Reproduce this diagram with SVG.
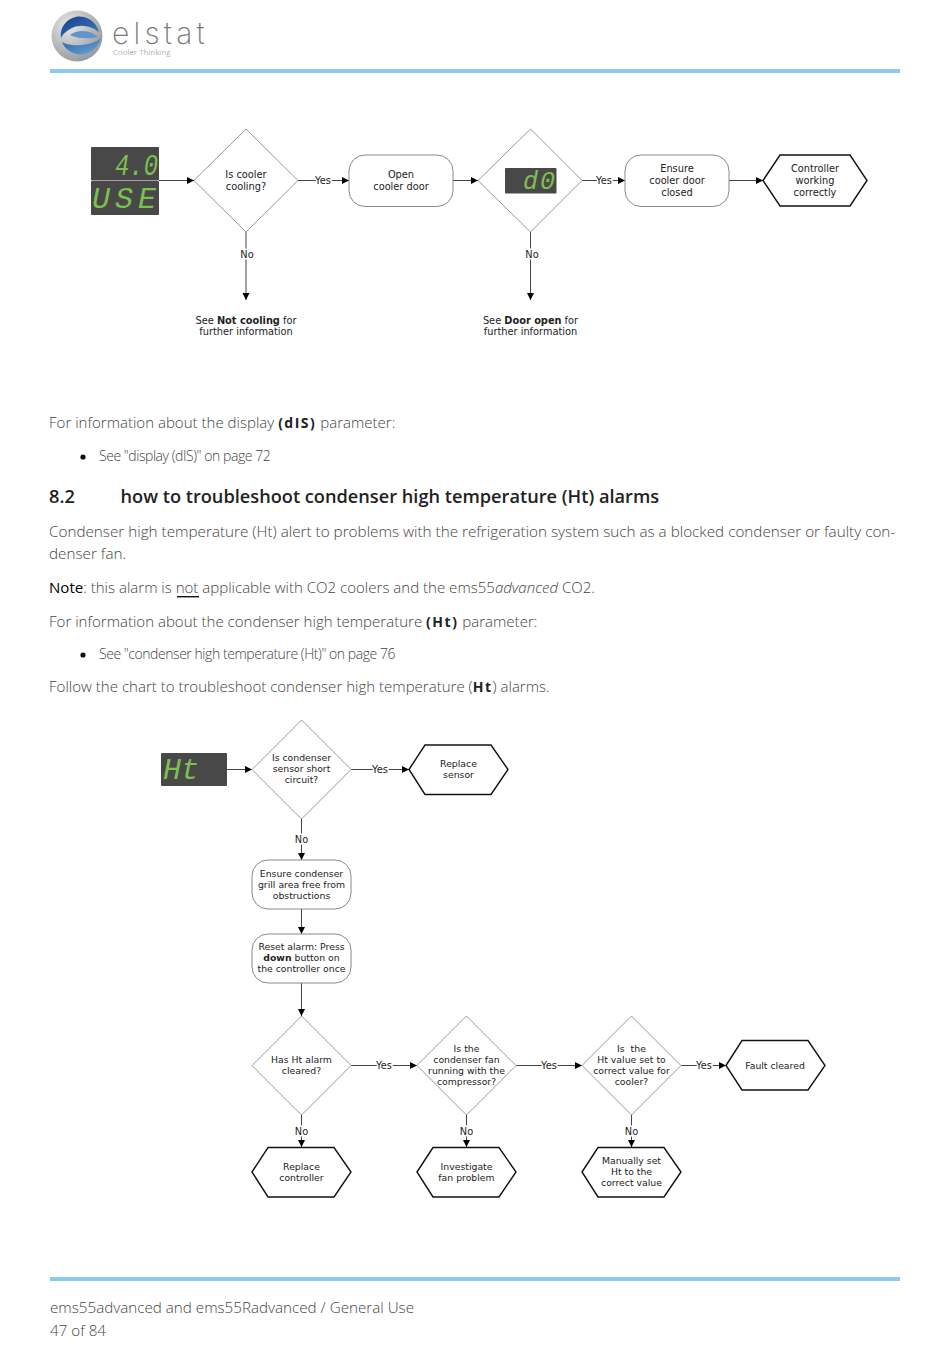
<svg xmlns="http://www.w3.org/2000/svg" width="950" height="1360" viewBox="0 0 950 1360">
<style>
.d{fill:#fff;stroke:#999;stroke-width:1}
.r{fill:#fff;stroke:#888;stroke-width:1}
.h{fill:#fff;stroke:#111;stroke-width:1.4}
.t{font:9.800px "DejaVu Sans",Verdana,sans-serif;fill:#222;text-anchor:middle}
.u{font:9.300px "DejaVu Sans",Verdana,sans-serif;fill:#222;text-anchor:middle}
.l{font:9.800px "DejaVu Sans",Verdana,sans-serif;fill:#222;text-anchor:middle;paint-order:stroke;stroke:#fff;stroke-width:3px}
.c{fill:none;stroke:#444;stroke-width:1;marker-end:url(#a)}
.b{font:300 15.050px "Open Sans",sans-serif;fill:#444}
.s{font:300 14px "Open Sans",sans-serif;fill:#444;letter-spacing:-.45px}
.m{font-weight:700;font-size:14px;fill:#222;letter-spacing:1.500px}
.f{font:300 15.200px "Open Sans",sans-serif;fill:#444}
.g{font:italic 400 30px "Liberation Mono",monospace;fill:#7dc04f}
.k{fill:#484848}
</style>
<defs>
<marker id="a" markerWidth="8" markerHeight="8" refX="7" refY="3.5" orient="auto" markerUnits="userSpaceOnUse"><path d="M0 0L7 3.5L0 7Z" fill="#000"/></marker>
<radialGradient id="lg" cx=".35" cy=".3" r=".8"><stop offset="0" stop-color="#e8e8e8"/><stop offset="1" stop-color="#8f9498"/></radialGradient>
<linearGradient id="lb" x1="0" y1="0" x2="1" y2="1"><stop offset="0" stop-color="#1a3f8a"/><stop offset="1" stop-color="#3f7fc0"/></linearGradient>
<linearGradient id="lc" x1="0" y1="0" x2="1" y2="1"><stop offset="0" stop-color="#2c5ea8"/><stop offset="1" stop-color="#6aa8d8"/></linearGradient>
</defs>
<g id="header">
<circle cx="77" cy="36" r="25.500" fill="url(#lg)"/>
<path d="M61 38C59 24 72 14 84 17C92 19 97 25 99 32C90 25 80 24 72 28C66 31 63 34 61 38Z" fill="url(#lb)"/>
<path d="M62 42C66 52 78 57 88 53C94 50 99 45 101 38C94 44 82 46 72 45C68 44.500 64 43.500 62 42Z" fill="url(#lc)"/>
<path d="M70 35C76 30 86 30 92 33L98 37C88 39 78 39 70 35Z" fill="#5f95cc"/>
<text x="112" y="44" style="font:200 30px 'Inter','Open Sans',sans-serif;fill:#77797c;letter-spacing:4.200px">elstat</text>
<text x="113" y="55" style="font:300 7.600px 'Open Sans',sans-serif;fill:#777;letter-spacing:.3px">Cooler Thinking</text>
<rect x="50" y="69" width="850" height="4" fill="#8bcbf0"/>
</g>
<g id="connectors">
<path class="c" d="M159 180.500H194"/>
<path class="c" d="M298 180.500H349"/>
<path class="c" d="M453 180.500H478"/>
<path class="c" d="M582 180.500H625"/>
<path class="c" d="M729 180.500H763"/>
<path class="c" d="M246 232V300"/>
<path class="c" d="M530.500 232V300"/>
<path class="c" d="M227 769.500H252"/>
<path class="c" d="M351 769.500H409"/>
<path class="c" d="M301.500 819V860"/>
<path class="c" d="M301.500 909V934"/>
<path class="c" d="M301.500 983V1016"/>
<path class="c" d="M351 1065.500H417"/>
<path class="c" d="M516 1065.500H582"/>
<path class="c" d="M681 1065.500H726"/>
<path class="c" d="M301.500 1115V1147"/>
<path class="c" d="M466.500 1115V1147"/>
<path class="c" d="M631.500 1115V1147"/>
<text class="l" x="323" y="184">Yes</text>
<text class="l" x="604" y="184">Yes</text>
<text class="l" x="247" y="258">No</text>
<text class="l" x="532" y="258">No</text>
<text class="l" x="380" y="773">Yes</text>
<text class="l" x="301.500" y="843">No</text>
<text class="l" x="384" y="1069">Yes</text>
<text class="l" x="549" y="1069">Yes</text>
<text class="l" x="704" y="1069">Yes</text>
<text class="l" x="301.500" y="1135">No</text>
<text class="l" x="466.500" y="1135">No</text>
<text class="l" x="631.500" y="1135">No</text>
</g>
<g id="n-display-top">
<rect class="k" x="91" y="147" width="68" height="33.500" rx="1"/>
<rect class="k" x="91" y="181" width="68" height="34" rx="1"/>
<text class="g" x="115" y="175" textLength="43" lengthAdjust="spacingAndGlyphs">4.0</text>
<text class="g" x="92" y="208" textLength="64" lengthAdjust="spacing">USE</text>
</g>
<g id="n-cooling"><path class="d" d="M246 129L298 180.500L246 232L194 180.500Z"/><text class="t" x="246" y="178">Is cooler</text><text class="t" x="246" y="189.500">cooling?</text></g>
<g id="n-open"><rect class="r" x="349" y="155" width="104" height="51.500" rx="16"/><text class="t" x="401" y="178">Open</text><text class="t" x="401" y="189.500">cooler door</text></g>
<g id="n-door"><path class="d" d="M530.500 129L582 180.500L530.500 232L478 180.500Z"/><rect class="k" x="505" y="168" width="51.500" height="25.500" rx="1"/><text class="g" x="523" y="189" style="font-size:25px" textLength="32" lengthAdjust="spacing">d0</text></g>
<g id="n-ensure"><rect class="r" x="625" y="155" width="104" height="51.500" rx="16"/><text class="t" x="677" y="172">Ensure</text><text class="t" x="677" y="184">cooler door</text><text class="t" x="677" y="195.500">closed</text></g>
<g id="n-working"><path class="h" d="M763 180.500L780 155H850L867 180.500L850 206H780Z"/><text class="t" x="815" y="172">Controller</text><text class="t" x="815" y="184">working</text><text class="t" x="815" y="195.500">correctly</text></g>
<g id="n-notcooling"><text class="t" x="246" y="323.500">See <tspan font-weight="700">Not cooling</tspan> for</text><text class="t" x="246" y="335">further information</text></g>
<g id="n-dooropen"><text class="t" x="530.500" y="323.500">See <tspan font-weight="700">Door open</tspan> for</text><text class="t" x="530.500" y="335">further information</text></g>
<g id="body">
<text class="b" x="49" y="428">For information about the display <tspan class="m">(dIS)</tspan> parameter:</text>
<circle cx="83" cy="457" r="2.600" fill="#111"/>
<text class="s" x="99" y="461">See "display (dIS)" on page 72</text>
<text x="49" y="503" style="font:600 18.200px 'Open Sans',sans-serif;fill:#222">8.2</text>
<text x="120.500" y="503" style="font:600 18.200px 'Open Sans',sans-serif;fill:#222">how to troubleshoot condenser high temperature (Ht) alarms</text>
<text class="b" x="49" y="537" style="font-size:15.250px">Condenser high temperature (Ht) alert to problems with the refrigeration system such as a blocked condenser or faulty con-</text>
<text class="b" x="49" y="559" style="font-size:15.250px">denser fan.</text>
<text class="b" x="49" y="593"><tspan fill="#000" font-weight="400">Note</tspan>: this alarm is not applicable with CO2 coolers and the ems55<tspan font-style="italic">advanced</tspan> CO2.</text>
<rect x="177" y="596" width="22" height="1.400" fill="#111"/>
<text class="b" x="49" y="627">For information about the condenser high temperature <tspan class="m">(Ht)</tspan> parameter:</text>
<circle cx="83" cy="655" r="2.600" fill="#111"/>
<text class="s" x="99" y="659">See "condenser high temperature (Ht)" on page 76</text>
<text class="b" x="49" y="692">Follow the chart to troubleshoot condenser high temperature (<tspan class="m">Ht</tspan>) alarms.</text>
</g>
<g id="n-display-ht"><rect class="k" x="161" y="753" width="66" height="33" rx="1"/><text class="g" x="163" y="779" textLength="36" lengthAdjust="spacing">Ht</text></g>
<g id="n-short"><path class="d" d="M301.500 720L351 769.500L301.500 819L252 769.500Z"/><text class="u" x="301.500" y="761">Is condenser</text><text class="u" x="301.500" y="772">sensor short</text><text class="u" x="301.500" y="783">circuit?</text></g>
<g id="n-replace-sensor"><path class="h" d="M409 769.500L425 745H491L508 769.500L491 794.500H425Z"/><text class="u" x="458.500" y="767">Replace</text><text class="u" x="458.500" y="778">sensor</text></g>
<g id="n-grill"><rect class="r" x="252" y="860" width="99" height="49" rx="16"/><text class="u" x="301.500" y="877">Ensure condenser</text><text class="u" x="301.500" y="888">grill area free from</text><text class="u" x="301.500" y="899">obstructions</text></g>
<g id="n-reset"><rect class="r" x="252" y="934" width="99" height="49" rx="16"/><text class="u" x="301.500" y="950">Reset alarm: Press</text><text class="u" x="301.500" y="961">
<tspan font-weight="700">down</tspan> button on</text><text class="u" x="301.500" y="972">the controller once</text></g>
<g id="n-cleared"><path class="d" d="M301.500 1016L351 1065.500L301.500 1115L252 1065.500Z"/><text class="u" x="301.500" y="1063">Has Ht alarm</text><text class="u" x="301.500" y="1074">cleared?</text></g>
<g id="n-fan"><path class="d" d="M466.500 1016L516 1065.500L466.500 1115L417 1065.500Z"/><text class="u" x="466.500" y="1052">Is the</text><text class="u" x="466.500" y="1063">condenser fan</text><text class="u" x="466.500" y="1074">running with the</text><text class="u" x="466.500" y="1085">compressor?</text></g>
<g id="n-value"><path class="d" d="M631.500 1016L681 1065.500L631.500 1115L582 1065.500Z"/><text class="u" x="631.500" y="1052" xml:space="preserve">Is  the</text><text class="u" x="631.500" y="1063">Ht value set to</text><text class="u" x="631.500" y="1074">correct value for</text><text class="u" x="631.500" y="1085">cooler?</text></g>
<g id="n-fault"><path class="h" d="M726 1065.500L742 1040.500H808L825 1065.500L808 1090H742Z"/><text class="u" x="775" y="1068.500">Fault cleared</text></g>
<g id="n-controller"><path class="h" d="M252 1172L268 1147.500H334L351 1172L334 1197H268Z"/><text class="u" x="301.500" y="1170">Replace</text><text class="u" x="301.500" y="1181">controller</text></g>
<g id="n-investigate"><path class="h" d="M417 1172L433 1147.500H499L516 1172L499 1197H433Z"/><text class="u" x="466.500" y="1170">Investigate</text><text class="u" x="466.500" y="1181">fan problem</text></g>
<g id="n-manual"><path class="h" d="M582 1172L598 1147.500H664L681 1172L664 1197H598Z"/><text class="u" x="631.500" y="1164">Manually set</text><text class="u" x="631.500" y="1175">Ht to the</text><text class="u" x="631.500" y="1186">correct value</text></g>
<g id="footer">
<rect x="50" y="1277" width="850" height="4" fill="#8bcbf0"/>
<text class="f" x="50" y="1313">ems55advanced and ems55Radvanced / General Use</text>
<text class="f" x="50" y="1336">47 of 84</text>
</g>
</svg>
